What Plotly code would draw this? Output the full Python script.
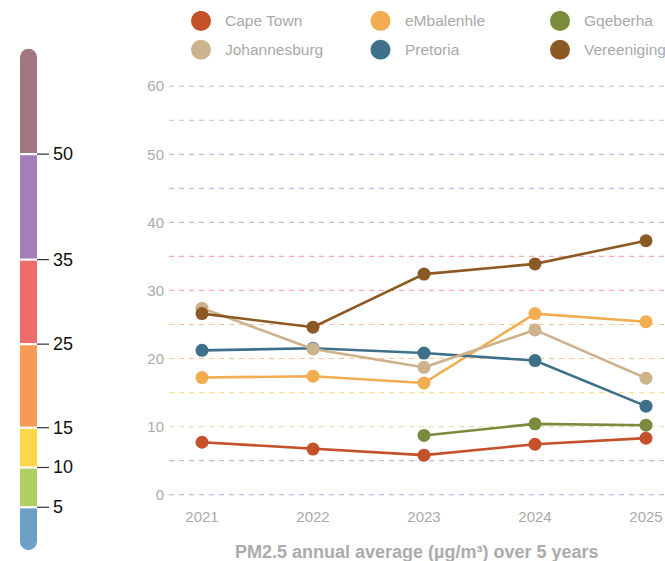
import plotly.graph_objects as go

# ---------------- data ----------------
years = [2021, 2022, 2023, 2024, 2025]
cape_town = [7.7, 6.7, 5.8, 7.4, 8.3]
embalenhle = [17.2, 17.4, 16.4, 26.6, 25.4]
gqeberha = [None, None, 8.7, 10.4, 10.2]
johannesburg = [27.4, 21.4, 18.7, 24.2, 17.1]
pretoria = [21.2, 21.5, 20.8, 19.7, 13.0]
vereeniging = [26.6, 24.6, 32.4, 33.9, 37.3]

legend_names = ["Cape Town", "eMbalenhle", "Gqeberha",
                "Johannesburg", "Pretoria", "Vereeniging"]
y_ticks = [0, 10, 20, 30, 40, 50, 60]
grid_values = [0, 5, 10, 15, 20, 25, 30, 35, 40, 45, 50, 55, 60]

# PM2.5 band thresholds shown on the colour key (bottom to top)
band_thresholds = [5, 10, 15, 25, 35, 50]
band_labels = ["5", "10", "15", "25", "35", "50"]

# ---------------- styles ----------------
series_colors = {
    "Cape Town": "#C4512A",
    "eMbalenhle": "#F1AD50",
    "Gqeberha": "#7A8B3D",
    "Johannesburg": "#CDB38C",
    "Pretoria": "#3E7189",
    "Vereeniging": "#8B5A24",
}
band_colors = ["#6E9FC7", "#AED062", "#FDD64A", "#F79A56", "#F06B6C", "#A47EB7", "#A0767F"]
# visual heights of the bands in the key (px, bottom to top)
band_display_heights = [43, 40, 40, 84, 85, 106, 106]


def grid_color(v):
    if v <= 5:
        return "#B5C3DA"
    if v <= 10:
        return "#D6E8B0"
    if v <= 15:
        return "#F7E08E"
    if v <= 25:
        return "#FBC39C"
    if v <= 35:
        return "#F8AEAE"
    if v <= 50:
        return "#CDB7DE"
    return "#D6B7C2"


W, H = 665, 561


def fx(p):  # window px -> paper x
    return min(1.0, max(0.0, p / W))


def fy(p):  # window px -> paper y
    return min(1.0, max(0.0, 1 - p / H))


fig = go.Figure()

series = {
    "Cape Town": cape_town,
    "eMbalenhle": embalenhle,
    "Gqeberha": gqeberha,
    "Pretoria": pretoria,
    "Johannesburg": johannesburg,
    "Vereeniging": vereeniging,
}
for name, vals in series.items():
    fig.add_trace(go.Scatter(
        x=years, y=vals, mode="lines+markers", name=name,
        line=dict(color=series_colors[name], width=2.6),
        marker=dict(color=series_colors[name], size=13),
        showlegend=False, hoverinfo="x+y+name",
        xaxis="x", yaxis="y",
    ))

# ---- custom legend (grid of 3 columns x 2 rows) ----
leg_cols = [i % 3 for i in range(len(legend_names))]
leg_rows = [i // 3 for i in range(len(legend_names))]
fig.add_trace(go.Scatter(
    x=leg_cols, y=leg_rows, mode="markers",
    marker=dict(size=20, color=[series_colors[n] for n in legend_names]),
    showlegend=False, hoverinfo="skip", xaxis="x3", yaxis="y3",
))
for n, c, r in zip(legend_names, leg_cols, leg_rows):
    fig.add_annotation(x=c, y=r, xref="x3", yref="y3", text=n, showarrow=False,
                       xanchor="left", yanchor="middle", xshift=22,
                       font=dict(family="Liberation Sans, Arial", size=15.5, color="#A9A9A9"))

# ---- colour key (stacked bar with rounded ends) ----
bases = []
acc = 0
for h in band_display_heights:
    bases.append(acc)
    acc += h
cap = 8.5
bar_base = list(bases)
bar_h = list(band_display_heights)
bar_base[0] += cap
bar_h[0] -= cap
bar_h[-1] -= cap
cx = 28.5
fig.add_trace(go.Bar(
    x=[cx] * len(bar_h), y=bar_h, base=bar_base, width=17,
    marker=dict(color=band_colors, line=dict(width=0)),
    showlegend=False, hoverinfo="skip", xaxis="x2", yaxis="y2",
))
fig.add_trace(go.Scatter(
    x=[cx, cx], y=[cap, acc - cap], mode="markers",
    marker=dict(size=17, color=[band_colors[0], band_colors[-1]], line=dict(width=0)),
    showlegend=False, hoverinfo="skip", xaxis="x2", yaxis="y2",
))

shapes = []
for i, lab in enumerate(band_labels):
    yb = bases[i + 1]
    shapes.append(dict(type="line", xref="x2", yref="y2", x0=cx - 8.5, x1=cx + 8.5,
                       y0=yb, y1=yb, line=dict(color="white", width=2.2), layer="above"))
    shapes.append(dict(type="line", xref="x2", yref="y2", x0=cx + 8.5, x1=cx + 20.5,
                       y0=yb, y1=yb, line=dict(color="#333333", width=1.2), layer="above"))
    fig.add_annotation(x=cx + 22.5, y=yb, xref="x2", yref="y2", text=lab, showarrow=False,
                       xanchor="left", yanchor="middle",
                       font=dict(family="Liberation Sans, Arial", size=18, color="#111111"))

fig.add_annotation(x=cx, y=acc + 27, xref="x2", yref="y2", text="<b>PM2.5</b>", showarrow=False,
                   xanchor="center", yanchor="middle",
                   font=dict(family="Liberation Sans, Arial", size=14.5, color="#111111"))
fig.add_annotation(x=cx, y=acc + 14, xref="x2", yref="y2", text="<b>(µg/m³)</b>", showarrow=False,
                   xanchor="center", yanchor="middle",
                   font=dict(family="Liberation Sans, Arial", size=9, color="#111111"))

# ---- coloured dashed grid lines ----
for v in grid_values:
    shapes.append(dict(type="line", xref="x domain", yref="y", x0=0, x1=1, y0=v, y1=v,
                       line=dict(color=grid_color(v), width=1.2, dash="5px,5px"), layer="below"))

# ---- bottom caption ----
fig.add_annotation(x=0.5, xref="x domain", y=fy(555), yref="paper",
                   text="<b>PM2.5 annual average (µg/m³) over 5 years</b>", showarrow=False,
                   xanchor="center", yanchor="middle",
                   font=dict(family="Liberation Sans, Arial", size=18, color="#ABABAB"))

# ---------------- layout ----------------
px_per_year = 111
x_left_px, x_right_px = 169, 665
x0 = years[0] - (202 - x_left_px) / px_per_year
x1 = years[-1] + (x_right_px - 646) / px_per_year
top_px, bot_px = 70, 503
zero_px, sixty_px = 497.3, 86.7
ppu = (zero_px - sixty_px) / 60
y_min = -(bot_px - zero_px) / ppu
y_max = 60 + (sixty_px - top_px) / ppu

# legend grid: rows at 21 / 50 px, columns at 201 / 560 px (window)
row_px = 29
leg_top, leg_bot = 11, 60
leg_rmin = -(21 - leg_top) / row_px
leg_rmax = 1 + (leg_bot - 50) / row_px

tick_font = dict(family="Liberation Sans, Arial", size=15, color="#ABABAB")

fig.update_layout(
    width=W, height=H,
    margin=dict(l=0, r=0, t=0, b=0),
    paper_bgcolor="white", plot_bgcolor="rgba(0,0,0,0)",
    shapes=shapes,
    bargap=0,
    xaxis=dict(domain=[fx(x_left_px), fx(x_right_px)], range=[x0, x1], tickvals=years,
               ticktext=[str(y) for y in years], showgrid=False, zeroline=False,
               showline=False, ticks="", tickfont=tick_font, ticklabelstandoff=6),
    yaxis=dict(domain=[fy(bot_px), fy(top_px)], range=[y_min, y_max],
               tickvals=y_ticks, showgrid=False, zeroline=False, showline=False,
               ticks="", tickfont=tick_font, ticklabelstandoff=4),
    xaxis2=dict(domain=[fx(0), fx(80)], range=[0, 80], visible=False, fixedrange=True),
    yaxis2=dict(domain=[fy(553), fy(49)], range=[0, acc], visible=False, fixedrange=True,
                anchor="x2"),
    xaxis3=dict(domain=[fx(111.25), fx(649.75)], range=[-0.5, 2.5], visible=False, fixedrange=True),
    yaxis3=dict(domain=[fy(leg_bot), fy(leg_top)], range=[leg_rmax, leg_rmin], visible=False,
                fixedrange=True, anchor="x3"),
    showlegend=False,
)

fig.write_html(
    "out.html",
    config={"displayModeBar": False},
    post_script="document.body.style.margin='0';document.body.style.overflow='hidden';",
)
